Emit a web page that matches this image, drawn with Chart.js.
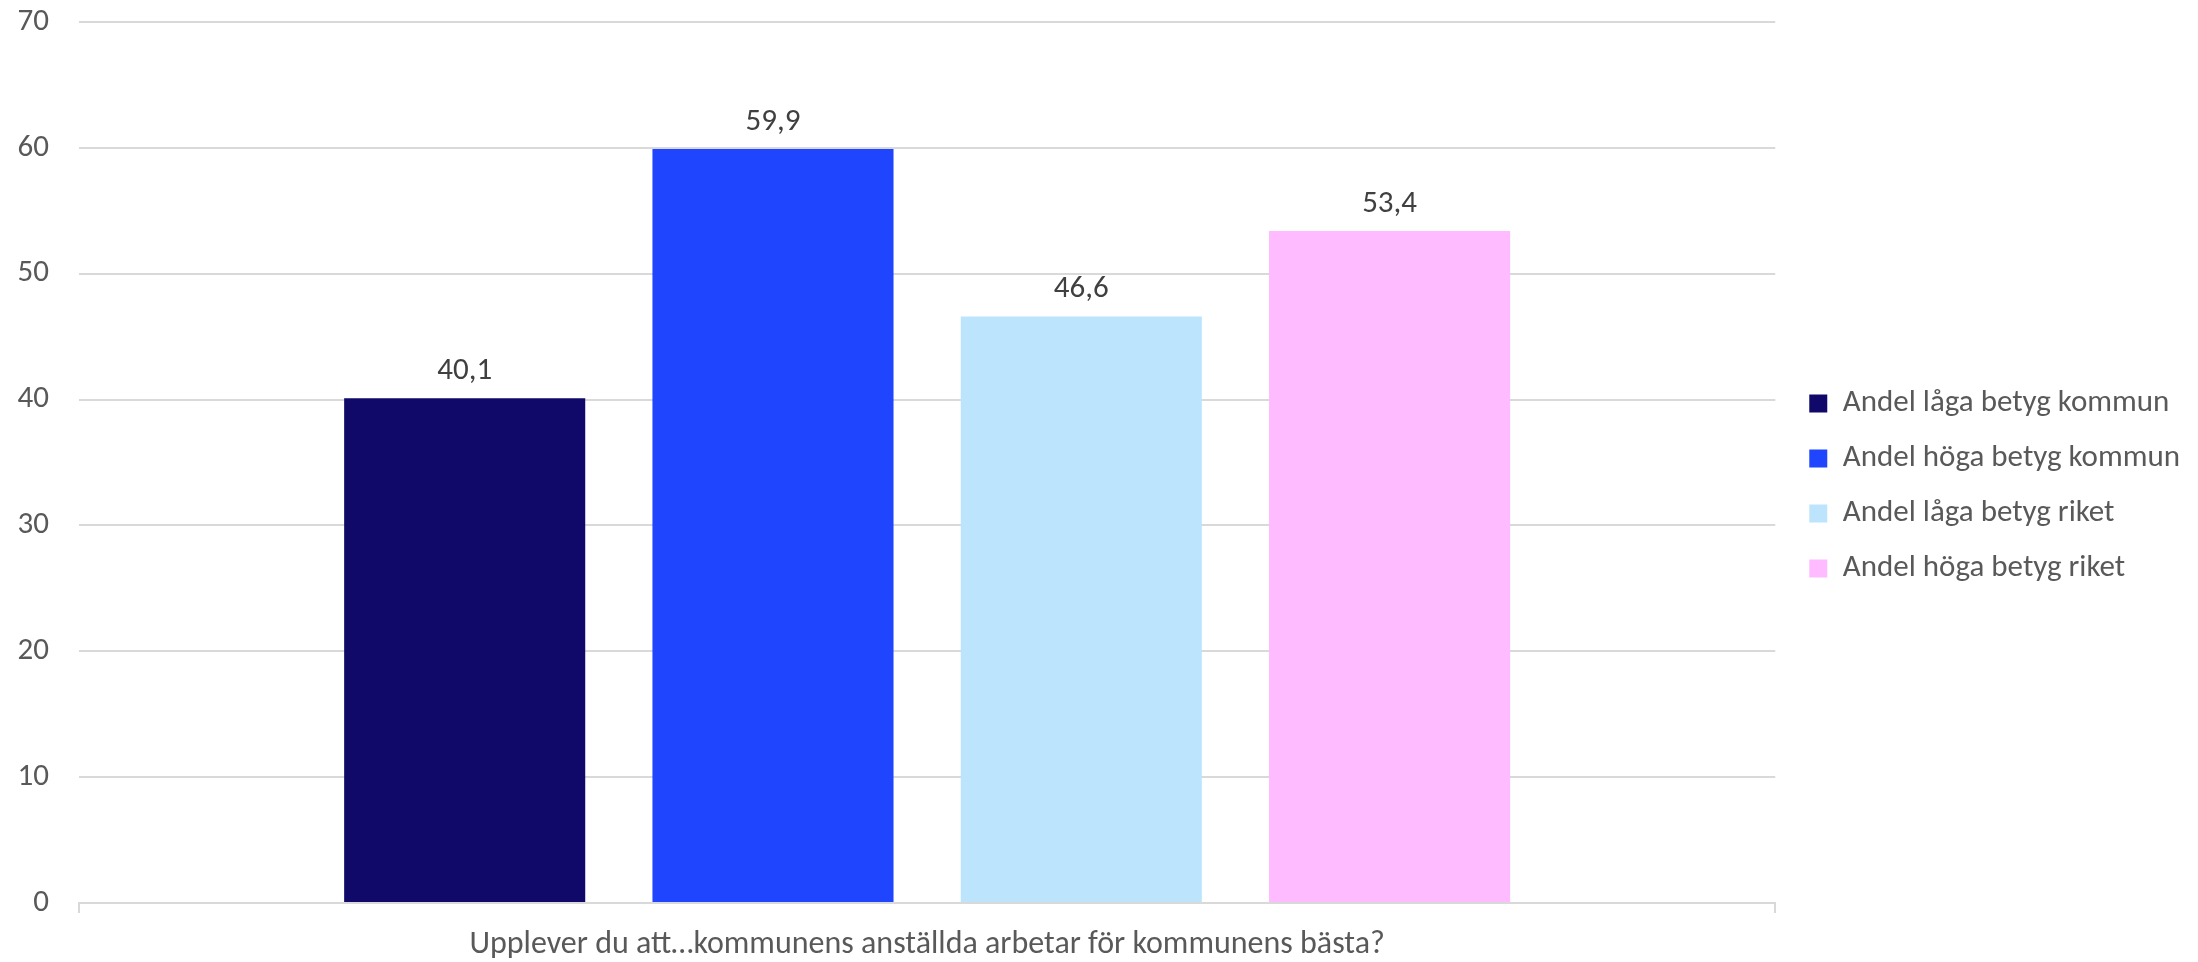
<!DOCTYPE html>
<html>
<head>
<meta charset="utf-8">
<script src="https://cdn.jsdelivr.net/npm/chart.js@4.4.1/dist/chart.umd.min.js"></script>
<style>
html,body{margin:0;padding:0;background:#fff;}
#wrap{width:2198px;height:962px;position:relative;}
</style>
</head>
<body>
<div id="wrap"><canvas id="c" width="2198" height="962"></canvas></div>
<script>
const categories = ["Upplever du att…kommunens anställda arbetar för kommunens bästa?"];
const seriesNames = ["Andel låga betyg kommun", "Andel höga betyg kommun", "Andel låga betyg riket", "Andel höga betyg riket"];
const lowKommun = [40.1];
const highKommun = [59.9];
const lowRiket = [46.6];
const highRiket = [53.4];
const yTicks = [0, 10, 20, 30, 40, 50, 60, 70];
const colors = ["#10096a", "#2045ff", "#bce5fd", "#ffbbff"];

const FONT = "Carlito, Lato, 'Liberation Sans', sans-serif";
const FS = 31;

const valueLabels = {
  id: 'valueLabels',
  afterDatasetsDraw(chart) {
    const ctx = chart.ctx;
    ctx.save();
    ctx.font = FS + "px " + FONT;
    ctx.fillStyle = "#404040";
    ctx.textAlign = "center";
    ctx.textBaseline = "middle";
    chart.data.datasets.forEach((ds, i) => {
      const meta = chart.getDatasetMeta(i);
      meta.data.forEach((bar, j) => {
        const v = ds.data[j];
        ctx.fillText(v.toFixed(1).replace('.', ','), bar.x, bar.y - 27);
      });
    });
    ctx.restore();
  }
};

const legendNudge = {
  id: 'legendNudge',
  afterLayout(chart) {
    if (chart.legend) {
      chart.legend.left += 10;
      chart.legend.right += 10;
      chart.legend.top -= 6;
      chart.legend.bottom -= 6;
    }
  }
};

const allSeries = [lowKommun, highKommun, lowRiket, highRiket];

new Chart(document.getElementById('c'), {
  type: 'bar',
  data: {
    labels: categories,
    datasets: allSeries.map((d, i) => ({
      label: seriesNames[i],
      data: d,
      backgroundColor: colors[i],
      borderWidth: 0,
      categoryPercentage: 0.727,
      barPercentage: 0.782
    }))
  },
  options: {
    responsive: false,
    animation: false,
    layout: { padding: { top: 22, right: 18, left: 0, bottom: 0 } },
    plugins: {
      tooltip: { enabled: false },
      legend: {
        position: 'right',
        align: 'center',
        labels: {
          boxWidth: 18,
          boxHeight: 18,
          padding: 24,
          color: '#595959',
          font: { family: FONT, size: 31 }
        }
      }
    },
    scales: {
      x: {
        afterFit(s) { s.height = 59; s.paddingLeft = 0; s.paddingRight = 0; },
        grid: { display: true, drawOnChartArea: false, drawTicks: true, tickLength: 10, color: '#d9d9d9', lineWidth: 2 },
        border: { display: true, color: '#d9d9d9', width: 2 },
        ticks: { color: '#595959', font: { family: FONT, size: 32 }, padding: 13, maxRotation: 0 }
      },
      y: {
        min: 0,
        max: 70,
        afterFit(s) { s.width = 79; s.paddingTop = 0; s.paddingBottom = 0; },
        afterBuildTicks(s) { s.ticks = yTicks.map(v => ({ value: v })); },
        grid: { color: '#d9d9d9', lineWidth: 2, drawTicks: false },
        border: { display: false },
        ticks: { color: '#595959', font: { family: FONT, size: FS }, padding: 30, stepSize: 10 }
      }
    }
  },
  plugins: [valueLabels, legendNudge]
});
</script>
</body>
</html>
